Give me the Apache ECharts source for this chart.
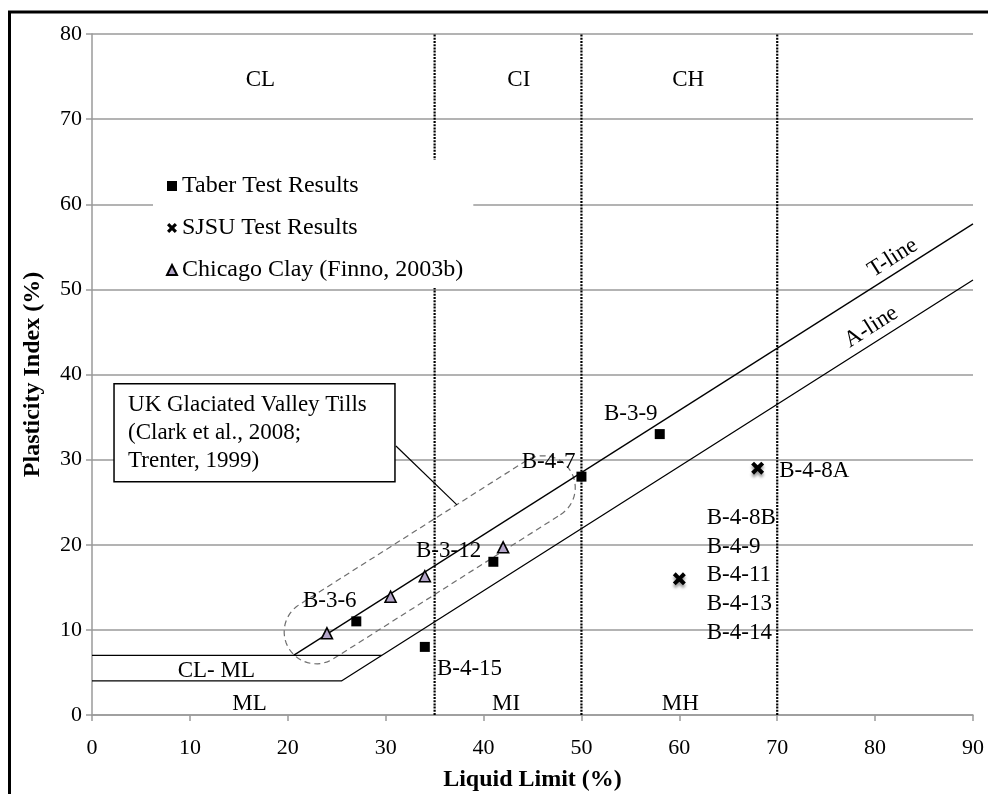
<!DOCTYPE html>
<html><head><meta charset="utf-8">
<script src="https://cdn.jsdelivr.net/npm/echarts@6/dist/echarts.min.js"></script>
<style>html,body{margin:0;padding:0;background:#fff}#c{width:988px;height:794px}</style>
</head><body><div id="c"></div>
<script>
// ---- data ----
const taberData = [[27, 11], [34, 8], [41, 18], [50, 28], [58, 33]];
const sjsuData = [[68, 29], [60, 16]];
const chicagoData = [[24, 9.6], [30.5, 13.9], [34, 16.3], [42, 19.7]];
const aLineData = [[0, 4], [25.48, 4], [90, 51.1]];
const tLineData = [[20.59, 7], [90, 57.7]];
const clmlLineData = [[0, 7], [29.59, 7]];
const zoneBounds = [35, 50, 70];
const zoneNames = ['CL', 'CI', 'CH', 'ML', 'MI', 'MH', 'CL- ML'];
const zoneNamePos = [[17.2, 74.6], [43.6, 74.6], [60.9, 74.6], [16.1, 1.3], [42.3, 1.3], [60.1, 1.3], [12.7, 5.2]];
const pointNames = ['B-3-6', 'B-4-15', 'B-3-12', 'B-4-7', 'B-3-9', 'B-4-8A', 'B-4-8B', 'B-4-9', 'B-4-11', 'B-4-13', 'B-4-14'];
const pointNamePos = [[21.55, 13.4], [35.24, 5.4], [33.1, 19.3], [43.9, 29.7], [52.3, 35.4], [70.2, 28.7], [62.8, 23.1], [62.8, 19.7], [62.8, 16.5], [62.8, 13.1], [62.8, 9.6]];
const lineNames = ['T-line', 'A-line'];
const lineNamePos = [[81.8, 53.7], [79.6, 45.6]];
const tillsZone = [[22.9, 9.77, 46.1, 26.7]];
const tillsBox = [[2.25, 38.9, 30.95, 27.4]];
const tillsText = 'UK Glaciated Valley Tills\n(Clark et al., 2008;\nTrenter, 1999)';
const tillsLeader = [[31.05, 31.6], [37.28, 24.68]];
const xTicks = [0, 10, 20, 30, 40, 50, 60, 70, 80, 90];
const yTicks = [0, 10, 20, 30, 40, 50, 60, 70, 80];

// ---- chart ----
const FONT = '"Liberation Serif", "Times New Roman", serif';
const chart = echarts.init(document.getElementById('c'), null, { renderer: 'canvas' });
const crossPath = 'path://M0,2.2L2.2,0L5,2.8L7.8,0L10,2.2L7.2,5L10,7.8L7.8,10L5,7.2L2.2,10L0,7.8L2.8,5Z';

function lineSeries(data, style) {
  return { type: 'line', data: data, symbol: 'none', silent: true, z: 2, animation: false,
    lineStyle: Object.assign({ color: '#000', width: 1.3 }, style) };
}
function textSeries(pos, labels, align) {
  return { type: 'custom', coordinateSystem: 'cartesian2d', silent: true, z: 3, data: pos,
    renderItem: function (params, api) {
      const p = api.coord([api.value(0), api.value(1)]);
      return { type: 'text', x: p[0], y: p[1],
        style: { text: labels[params.dataIndex], font: '23px ' + FONT, fill: '#000', align: align, verticalAlign: 'middle' } };
    } };
}

const series = [];
zoneBounds.forEach(function (b) {
  series.push(lineSeries([[b, 0], [b, 80]], { width: 2.2, type: [2, 1.2], color: '#000' }));
});
series.push(lineSeries(aLineData, {}));
series.push(lineSeries(tLineData, {}));
series.push(lineSeries(clmlLineData, {}));
series.push(lineSeries(tillsLeader, { width: 1.2 }));
// dashed capsule
series.push({ type: 'custom', coordinateSystem: 'cartesian2d', silent: true, z: 2, data: tillsZone,
  renderItem: function (params, api) {
    const a = api.coord([api.value(0), api.value(1)]);
    const b = api.coord([api.value(2), api.value(3)]);
    const dx = b[0] - a[0], dy = b[1] - a[1], L = Math.hypot(dx, dy);
    const ux = dx / L, uy = dy / L, nx = -uy, ny = ux, r = 32;
    const pts = [];
    for (let i = 0; i <= 30; i++) {
      const t = Math.PI / 2 - Math.PI * i / 30;
      pts.push([b[0] + r * (Math.cos(t) * ux + Math.sin(t) * nx), b[1] + r * (Math.cos(t) * uy + Math.sin(t) * ny)]);
    }
    for (let i = 0; i <= 30; i++) {
      const t = -Math.PI / 2 - Math.PI * i / 30;
      pts.push([a[0] + r * (Math.cos(t) * ux + Math.sin(t) * nx), a[1] + r * (Math.cos(t) * uy + Math.sin(t) * ny)]);
    }
    return { type: 'polygon', shape: { points: pts },
      style: { fill: null, stroke: '#6e6e6e', lineWidth: 1.2, lineDash: [6, 4] } };
  } });
// callout box
series.push({ type: 'custom', coordinateSystem: 'cartesian2d', silent: true, z: 4, data: tillsBox,
  renderItem: function (params, api) {
    const a = api.coord([api.value(0), api.value(1)]);
    const b = api.coord([api.value(2), api.value(3)]);
    return { type: 'group', children: [
      { type: 'rect', shape: { x: a[0], y: a[1], width: b[0] - a[0], height: b[1] - a[1] },
        style: { fill: '#fff', stroke: '#000', lineWidth: 1.5 } },
      { type: 'text', x: a[0] + 14, y: (a[1] + b[1]) / 2,
        style: { text: tillsText, font: '23px ' + FONT, fill: '#000', lineHeight: 28, align: 'left', verticalAlign: 'middle' } }
    ] };
  } });
// rotated line labels
series.push({ type: 'custom', coordinateSystem: 'cartesian2d', silent: true, z: 3, data: lineNamePos,
  renderItem: function (params, api) {
    const p = api.coord([api.value(0), api.value(1)]);
    const src = params.dataIndex === 0 ? tLineData : aLineData;
    const s = api.coord(src[src.length - 2]), e = api.coord(src[src.length - 1]);
    const ang = Math.atan2(s[1] - e[1], e[0] - s[0]);
    return { type: 'text', x: p[0], y: p[1], rotation: ang,
      style: { text: lineNames[params.dataIndex], font: '23px ' + FONT, fill: '#000', align: 'center', verticalAlign: 'middle' } };
  } });
series.push(textSeries(zoneNamePos, zoneNames, 'center'));
series.push(textSeries(pointNamePos, pointNames, 'left'));

series.push({ name: 'Taber Test Results', type: 'scatter', data: taberData, symbol: 'rect', symbolSize: 10, z: 5,
  itemStyle: { color: '#000', opacity: 1 } });
series.push({ name: 'SJSU Test Results', type: 'scatter', data: sjsuData, symbol: crossPath, symbolSize: 13, z: 5,
  itemStyle: { color: '#000', opacity: 1, shadowColor: 'rgba(0,0,0,0.4)', shadowBlur: 3, shadowOffsetY: 3 } });
series.push({ name: 'Chicago Clay (Finno, 2003b)', type: 'scatter', data: chicagoData, symbol: 'triangle', symbolSize: 11, z: 5,
  itemStyle: { color: '#b3a5c8', borderColor: '#000', borderWidth: 1.6, opacity: 1 } });

const option = {
  animation: false,
  backgroundColor: '#fff',
  grid: { left: 92, right: 15, top: 34, bottom: 79, outerBoundsMode: 'none' },
  xAxis: { type: 'value', min: 0, max: 90, interval: 10,
    name: 'Liquid Limit (%)', nameLocation: 'middle', nameGap: 53,
    nameTextStyle: { fontFamily: FONT, fontSize: 24, fontWeight: 'bold', color: '#000' },
    axisLine: { show: true, lineStyle: { color: '#9a9a9a', width: 1.5 } },
    axisTick: { show: true, length: 6, lineStyle: { color: '#9a9a9a', width: 1.5 } },
    axisLabel: { margin: 22, fontFamily: FONT, fontSize: 22, color: '#000',
      formatter: function (v) { return xTicks.indexOf(v) >= 0 ? String(v) : ''; } },
    splitLine: { show: false } },
  yAxis: { type: 'value', min: 0, max: 80, interval: 10,
    name: 'Plasticity Index (%)', nameLocation: 'middle', nameGap: 47,
    nameTextStyle: { fontFamily: FONT, fontSize: 24, fontWeight: 'bold', color: '#000' },
    axisLine: { show: true, lineStyle: { color: '#9a9a9a', width: 1.5 } },
    axisTick: { show: true, length: 6, lineStyle: { color: '#9a9a9a', width: 1.5 } },
    axisLabel: { margin: 10, fontFamily: FONT, fontSize: 22, color: '#000',
      formatter: function (v) { return yTicks.indexOf(v) >= 0 ? String(v) : ''; } },
    splitLine: { show: true, lineStyle: { color: '#9a9a9a', width: 1.5 } } },
  legend: { data: ['Taber Test Results', 'SJSU Test Results', 'Chicago Clay (Finno, 2003b)'],
    orient: 'vertical', left: 153, top: 160, padding: [14, 10, 6, 13], itemGap: 18,
    itemWidth: 10, itemHeight: 10, backgroundColor: '#fff', z: 6,
    itemStyle: { shadowBlur: 0, shadowOffsetY: 0, shadowColor: 'rgba(0,0,0,0)' },
    textStyle: { fontFamily: FONT, fontSize: 24, color: '#000', lineHeight: 22 } },
  graphic: [{ type: 'rect', silent: true, z: 100,
    shape: { x: 9.5, y: 12, width: 1200, height: 1000 },
    style: { fill: null, stroke: '#000', lineWidth: 3 } }],
  series: series
};
chart.setOption(option);
</script></body></html>
